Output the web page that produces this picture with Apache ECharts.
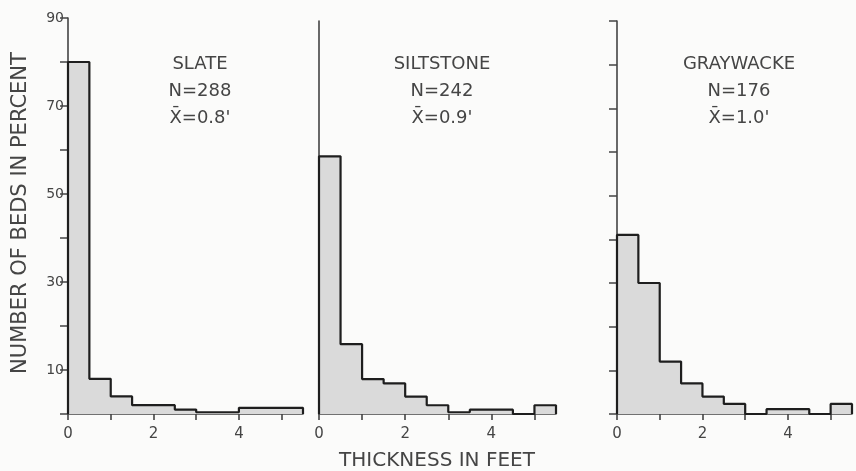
<!DOCTYPE html>
<html>
<head>
<meta charset="utf-8">
<script src="https://cdn.jsdelivr.net/npm/echarts@6/dist/echarts.min.js"></script>
<style>
html,body{margin:0;padding:0;background:#fbfbfa;}
#chart{width:856px;height:471px;}
</style>
</head>
<body>
<div id="chart"></div>
<script>
// ---- data ----
const binStarts = [0, 0.5, 1.0, 1.5, 2.0, 2.5, 3.0, 3.5, 4.0, 4.5, 5.0];
const binWidth = 0.5;
const slateValues     = [80, 8, 4, 2, 2, 1, 0.4, 0.4, 1.4, 1.4, 1.4];
const siltstoneValues = [59, 16, 8, 7, 4, 2, 0.4, 1, 1, 0, 2];
const graywackeValues = [41, 30, 12, 7, 4, 2.3, 0, 1.1, 1.1, 0, 2.3];
const panelNames = ['SLATE', 'SILTSTONE', 'GRAYWACKE'];
const panelN = ['N=288', 'N=242', 'N=176'];
const panelMean = ['X\u0304=0.8\'', 'X\u0304=0.9\'', 'X\u0304=1.0\''];
const xTickValues = [0, 1, 2, 3, 4, 5];
const xLabelValues = [0, 2, 4];
const yLabelValues = [10, 30, 50, 70, 90];
const xMax = 5.5, yMax = 90;

function outline(values) {
  const pts = [[0, 0]];
  values.forEach((v, i) => {
    pts.push([binStarts[i], v], [binStarts[i] + binWidth, v]);
  });
  pts.push([binStarts[binStarts.length - 1] + binWidth, 0]);
  return pts;
}

const allValues = [slateValues, siltstoneValues, graywackeValues];
const grids = [
  {left: 68, top: 18, width: 235, bottom: 57},
  {left: 319, top: 21, width: 237, bottom: 57},
  {left: 617, top: 21, width: 235, bottom: 57}
];
const textColor = '#454545';
const axisColor = '#444';
const font = 'DejaVu Sans';

const xAxes = grids.map((g, i) => ({
  type: 'value', gridIndex: i, min: 0, max: xMax, interval: 1,
  axisLine: {show: true, lineStyle: {color: axisColor, width: 1.6}},
  axisTick: {show: true, inside: false, length: 6, customValues: xTickValues,
             lineStyle: {color: axisColor, width: 1.6}},
  axisLabel: {show: true, customValues: xLabelValues, margin: 13,
              color: textColor, fontSize: 15, fontFamily: font},
  splitLine: {show: false}
}));

const yAxes = grids.map((g, i) => ({
  type: 'value', gridIndex: i, min: 0, max: yMax, interval: 10,
  axisLine: {show: true, lineStyle: {color: axisColor, width: 1.6}},
  axisTick: {show: i !== 1, inside: false, length: 8, lineStyle: {color: axisColor, width: 1.5}},
  axisLabel: {show: i === 0, customValues: yLabelValues, margin: 4,
              color: textColor, fontSize: 14, fontFamily: font},
  splitLine: {show: false}
}));

const series = allValues.map((vals, i) => ({
  type: 'line', xAxisIndex: i, yAxisIndex: i,
  data: outline(vals), symbol: 'none', silent: true,
  lineStyle: {color: '#1e1e1e', width: 2.2},
  areaStyle: {color: '#dadada', opacity: 1},
  z: 1
}));

const labelCenters = [200, 442, 739];
const graphics = [];
panelNames.forEach((name, i) => {
  [name, panelN[i], panelMean[i]].forEach((t, j) => {
    graphics.push({
      type: 'text', x: labelCenters[i], y: 64 + j * 27,
      style: {text: t, textAlign: 'center', textVerticalAlign: 'middle',
              fill: textColor, font: '18px "' + font + '"'}
    });
  });
});
graphics.push({
  type: 'text', x: 437, y: 461,
  style: {text: 'THICKNESS IN FEET', textAlign: 'center', textVerticalAlign: 'middle',
          fill: textColor, font: '20px "' + font + '"'}
});
graphics.push({
  type: 'text', x: 21, y: 213, rotation: Math.PI / 2,
  style: {text: 'NUMBER OF BEDS IN PERCENT', textAlign: 'center', textVerticalAlign: 'middle',
          fill: textColor, font: '21px "' + font + '"'}
});

const chart = echarts.init(document.getElementById('chart'), null, {renderer: 'canvas'});
chart.setOption({
  backgroundColor: '#fbfbfa',
  animation: false,
  grid: grids,
  xAxis: xAxes,
  yAxis: yAxes,
  series: series,
  graphic: graphics
});
</script>
</body>
</html>
